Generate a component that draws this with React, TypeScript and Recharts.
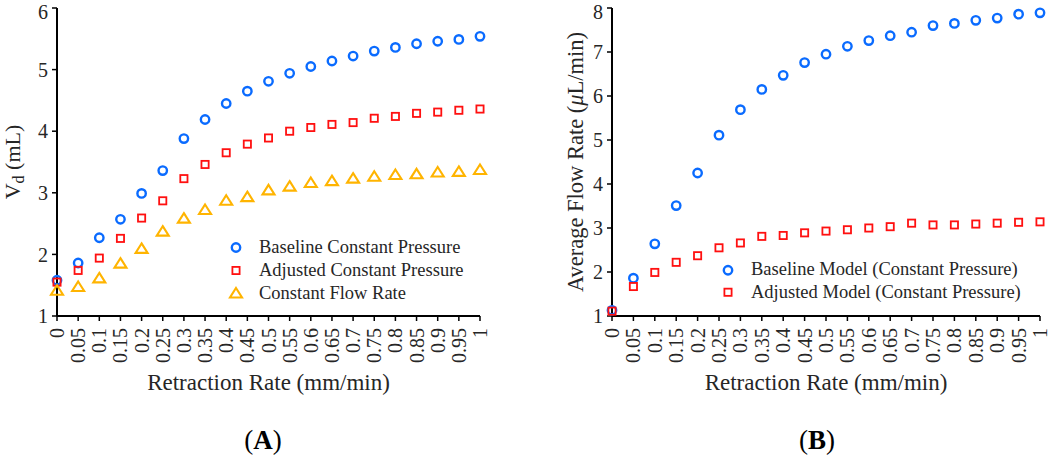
import { ScatterChart, Scatter, XAxis, YAxis, Legend } from 'recharts'

// Retraction rate (mm/min), shared by both panels
const rates = [0, 0.05, 0.1, 0.15, 0.2, 0.25, 0.3, 0.35, 0.4, 0.45, 0.5, 0.55, 0.6, 0.65, 0.7, 0.75, 0.8, 0.85, 0.9, 0.95, 1]
const rateTickLabels = ['0', '0.05', '0.1', '0.15', '0.2', '0.25', '0.3', '0.35', '0.4', '0.45', '0.5', '0.55', '0.6', '0.65', '0.7', '0.75', '0.8', '0.85', '0.9', '0.95', '1']

// Panel A: V_d (mL)
const vdTicks = [1, 2, 3, 4, 5, 6]
const baselineVd = [1.58, 1.86, 2.27, 2.57, 2.99, 3.36, 3.88, 4.19, 4.45, 4.65, 4.81, 4.94, 5.05, 5.14, 5.22, 5.30, 5.36, 5.42, 5.46, 5.49, 5.54]
const adjustedVd = [1.55, 1.74, 1.94, 2.26, 2.59, 2.87, 3.23, 3.46, 3.65, 3.79, 3.89, 4.0, 4.06, 4.11, 4.14, 4.21, 4.24, 4.29, 4.31, 4.34, 4.36]
const constFlowVd = [1.41, 1.47, 1.61, 1.85, 2.09, 2.37, 2.58, 2.72, 2.87, 2.93, 3.04, 3.10, 3.16, 3.19, 3.23, 3.26, 3.29, 3.30, 3.33, 3.34, 3.37]

// Panel B: average flow rate (uL/min)
const flowTicks = [1, 2, 3, 4, 5, 6, 7, 8]
const baselineFlow = [1.13, 1.86, 2.64, 3.51, 4.25, 5.11, 5.69, 6.15, 6.47, 6.76, 6.95, 7.13, 7.26, 7.37, 7.45, 7.60, 7.65, 7.72, 7.77, 7.86, 7.89]
const adjustedFlow = [1.11, 1.67, 1.99, 2.22, 2.37, 2.55, 2.66, 2.81, 2.83, 2.89, 2.93, 2.96, 3.0, 3.03, 3.11, 3.07, 3.07, 3.09, 3.11, 3.13, 3.14]

const BLUE = '#0A6BFF'
const RED = '#FF1010'
const YELLOW = '#FFB400'
const FONT = '"Liberation Serif", "Times New Roman", serif'
const INK = '#262626'

const toPoints = (ys: number[]) => rates.map((x, i) => ({ x, y: ys[i] }))

const CircleMark = ({ cx, cy }: any) => (
  <circle cx={cx} cy={cy} r={4.2} fill="none" stroke={BLUE} strokeWidth={2.4} />
)
const SquareMark = ({ cx, cy }: any) => (
  <rect x={cx - 3.6} y={cy - 3.6} width={7.2} height={7.2} fill="none" stroke={RED} strokeWidth={1.8} />
)
const TriangleMark = ({ cx, cy }: any) => (
  <polygon
    points={`${cx},${cy - 5.5} ${cx + 6},${cy + 4} ${cx - 6},${cy + 4}`}
    fill="none"
    stroke={YELLOW}
    strokeWidth={2.1}
    strokeLinejoin="miter"
  />
)

const markFor: Record<string, (p: any) => any> = {
  circle: CircleMark,
  square: SquareMark,
  triangle: TriangleMark,
}

function MarkerLegend({ items, rowHeight }: { items: { name: string; mark: string }[]; rowHeight: number }) {
  return (
    <div style={{ fontFamily: FONT, fontSize: 18.5, color: INK }}>
      {items.map(it => {
        const Mark = markFor[it.mark]
        return (
          <div key={it.name} style={{ display: 'flex', alignItems: 'center', height: rowHeight, whiteSpace: 'nowrap' }}>
            <svg width={20} height={rowHeight} style={{ display: 'block' }}>
              <Mark cx={10} cy={rowHeight / 2} />
            </svg>
            <span style={{ marginLeft: 13 }}>{it.name}</span>
          </div>
        )
      })}
    </div>
  )
}

function RateTick({ x, y, payload }: any) {
  const i = rates.indexOf(payload.value)
  const label = i >= 0 ? rateTickLabels[i] : String(payload.value)
  return (
    <text
      x={x}
      y={y + 5}
      transform={`rotate(-90 ${x} ${y + 5})`}
      textAnchor="end"
      dominantBaseline="central"
      fontFamily={FONT}
      fontSize={20}
      fill={INK}
    >
      {label}
    </text>
  )
}

const xTitle = (props: any) => {
  const vb = props.viewBox
  return (
    <text x={vb.x + vb.width / 2} y={vb.y + 66} textAnchor="middle" dominantBaseline="central" fontFamily={FONT} fontSize={23} fill={INK}>
      Retraction Rate (mm/min)
    </text>
  )
}

const vdTitle = (props: any) => {
  const vb = props.viewBox
  const cx = 12
  const cy = vb.y + vb.height / 2
  return (
    <text x={cx} y={cy} transform={`rotate(-90 ${cx} ${cy})`} textAnchor="middle" dominantBaseline="central" fontFamily={FONT} fontSize={22} fill={INK}>
      V<tspan fontSize={16} dy={6}>d</tspan>
      <tspan dy={-6}> (mL)</tspan>
    </text>
  )
}

const flowTitle = (props: any) => {
  const vb = props.viewBox
  const cx = 55
  const cy = vb.y + vb.height / 2
  return (
    <text x={cx} y={cy} transform={`rotate(-90 ${cx} ${cy})`} textAnchor="middle" dominantBaseline="central" fontFamily={FONT} fontSize={22.5} fill={INK}>
      Average Flow Rate (<tspan fontStyle="italic">μ</tspan>L/min)
    </text>
  )
}

const axisLine = { stroke: '#000', strokeWidth: 2 }
const tickLine = { stroke: '#000', strokeWidth: 1.5 }
const yTickStyle = { fontFamily: FONT, fontSize: 20, fill: INK }

export default function App() {
  return (
    <div style={{ position: 'absolute', left: 0, top: 0, width: 1050, height: 459, background: '#fff', overflow: 'hidden' }}>
      {/* Panel A */}
      <div style={{ position: 'absolute', left: 0, top: 0 }}>
        <ScatterChart width={500} height={400} margin={{ top: 8, right: 20, bottom: 24, left: 0 }}>
          <XAxis
            type="number"
            dataKey="x"
            domain={[0, 1]}
            ticks={rates}
            interval={0}
            height={60}
            axisLine={axisLine}
            tickLine={tickLine}
            tickSize={5}
            tick={<RateTick />}
            label={xTitle}
          />
          <YAxis
            type="number"
            dataKey="y"
            domain={[1, 6]}
            ticks={vdTicks}
            width={57}
            axisLine={axisLine}
            tickLine={tickLine}
            tickSize={5}
            tickMargin={4}
            tick={yTickStyle}
            label={vdTitle}
          />
          <Legend
            layout="vertical"
            align="center"
            verticalAlign="middle"
            wrapperStyle={{ left: 226, top: 235.5, width: 'auto' }}
            content={() => (
              <MarkerLegend
                rowHeight={23}
                items={[
                  { name: 'Baseline Constant Pressure', mark: 'circle' },
                  { name: 'Adjusted Constant Pressure', mark: 'square' },
                  { name: 'Constant Flow Rate', mark: 'triangle' },
                ]}
              />
            )}
          />
          <Scatter name="Baseline Constant Pressure" data={toPoints(baselineVd)} shape={<CircleMark />} isAnimationActive={false} />
          <Scatter name="Adjusted Constant Pressure" data={toPoints(adjustedVd)} shape={<SquareMark />} isAnimationActive={false} />
          <Scatter name="Constant Flow Rate" data={toPoints(constFlowVd)} shape={<TriangleMark />} isAnimationActive={false} />
        </ScatterChart>
      </div>

      {/* Panel B */}
      <div style={{ position: 'absolute', left: 520, top: 0 }}>
        <ScatterChart width={530} height={400} margin={{ top: 8, right: 10, bottom: 24, left: 0 }}>
          <XAxis
            type="number"
            dataKey="x"
            domain={[0, 1]}
            ticks={rates}
            interval={0}
            height={60}
            axisLine={axisLine}
            tickLine={tickLine}
            tickSize={5}
            tick={<RateTick />}
            label={xTitle}
          />
          <YAxis
            type="number"
            dataKey="y"
            domain={[1, 8]}
            ticks={flowTicks}
            width={92}
            axisLine={axisLine}
            tickLine={tickLine}
            tickSize={5}
            tickMargin={4}
            tick={yTickStyle}
            label={flowTitle}
          />
          <Legend
            layout="vertical"
            align="center"
            verticalAlign="middle"
            wrapperStyle={{ left: 198, top: 258.5, width: 'auto' }}
            content={() => (
              <MarkerLegend
                rowHeight={22.5}
                items={[
                  { name: 'Baseline Model (Constant Pressure)', mark: 'circle' },
                  { name: 'Adjusted Model (Constant Pressure)', mark: 'square' },
                ]}
              />
            )}
          />
          <Scatter name="Baseline Model (Constant Pressure)" data={toPoints(baselineFlow)} shape={<CircleMark />} isAnimationActive={false} />
          <Scatter name="Adjusted Model (Constant Pressure)" data={toPoints(adjustedFlow)} shape={<SquareMark />} isAnimationActive={false} />
        </ScatterChart>
      </div>

      {/* Panel captions */}
      <div style={{ position: 'absolute', left: 213, top: 424, width: 100, textAlign: 'center', fontFamily: FONT, fontSize: 27, lineHeight: '32px', color: '#000' }}>
        (<b>A</b>)
      </div>
      <div style={{ position: 'absolute', left: 767, top: 424, width: 100, textAlign: 'center', fontFamily: FONT, fontSize: 27, lineHeight: '32px', color: '#000' }}>
        (<b>B</b>)
      </div>
    </div>
  )
}
